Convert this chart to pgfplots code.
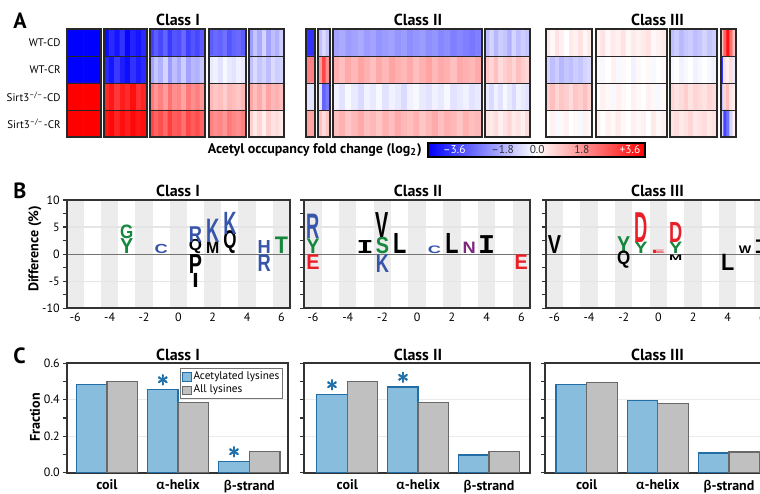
\documentclass[border=0pt]{standalone}
\usepackage{pgfplots}
\pgfplotsset{compat=1.18}
\usepackage{graphicx}
\usepackage{fontspec}
\setmainfont{PT Sans}
\newfontfamily\greekfont{Lato}
\newfontfamily\lfs{Liberation Sans}
\newfontfamily\lfm{Liberation Mono}
\newdimen\logounit \logounit=2.7075pt
\newcommand\fs[1]{\fontsize{#1}{#1}\selectfont}

\definecolor{lgreen}{RGB}{20,135,60}
\definecolor{lblue}{RGB}{55,85,170}
\definecolor{lred}{RGB}{235,30,40}
\definecolor{lpurple}{RGB}{125,40,125}
\definecolor{bandgray}{RGB}{236,236,236}
\definecolor{acetfill}{RGB}{137,189,222}
\definecolor{acetdraw}{RGB}{35,110,165}
\definecolor{allfill}{RGB}{192,192,192}
\definecolor{alldraw}{RGB}{105,105,105}
\definecolor{astblue}{RGB}{30,110,170}
\definecolor{hmframe}{RGB}{40,40,40}

\pgfplotsset{
  colormap={bwr}{rgb255=(0,0,255) rgb255=(255,255,255) rgb255=(255,0,0)},
  hm/.style={scale only axis, anchor=north west, height=54pt, enlargelimits=false,
    y dir=reverse, ymin=-0.5, ymax=3.5, xmin=-0.5, xtick=\empty,
    ytick={0.5,1.5,2.5}, yticklabels={}, ymajorgrids,
    major grid style={black!85, line width=0.5pt}, major tick length=0pt,
    axis on top, axis line style={hmframe, line width=1pt},
    colormap name=bwr, point meta min=-3.6, point meta max=3.6},
  logoax/.style={scale only axis, anchor=north west, height=54.15pt,
    xmin=-6.5, xmax=6.5, ymin=-10, ymax=10,
    xtick={-6,-4,-2,0,2,4,6}, ytick={-10,-5,0,5,10}, minor ytick={-7.5,-2.5,2.5,7.5},
    tick align=outside, ytick pos=left, xtick style={draw=none},
    major tick length=2pt, minor tick length=2pt, axis on top,
    axis line style={black!80, line width=0.9pt}, tick style={black!80, line width=0.6pt},
    tick label style={font=\fs{6}}, yticklabel style={xshift=2pt}, xticklabel style={yshift=3pt},
    /pgf/number format/assume math mode=true},
  logo/.style={scatter, only marks, mark=*, mark size=0pt, mark options={draw=none,fill=none},
    visualization depends on={value \thisrow{h}\as\Lh},
    visualization depends on={value \thisrow{w}\as\Lw},
    visualization depends on={value \thisrow{l}\as\Ll},
    visualization depends on={value \thisrow{c}\as\Lc},
    visualization depends on={value \thisrow{f}\as\Lf},
    scatter/@pre marker code/.code={\node[anchor=south, inner sep=0pt, outer sep=0pt, text=\Lc]
      {\resizebox{\Lw pt}{\Lh\logounit}{\csname lf\Lf\endcsname\bfseries\Ll}};},
    scatter/@post marker code/.code={}},
  barax/.style={scale only axis, anchor=north west, height=54.7pt,
    ybar=0pt, bar width=0.43, ymin=0, ymax=0.6,
    ytick={0,0.2,0.4,0.6}, minor ytick={0.1,0.3,0.5}, ytick pos=left, tick align=outside,
    major tick length=2pt, minor tick length=2pt,
    xtick={0,1,2}, xtick style={draw=none},
    xticklabels={coil,{{\greekfont α}-helix},{{\greekfont β}-strand}},
    xticklabel style={font=\bfseries\fs{7}, yshift=2pt},
    yticklabel style={font=\fs{6}, xshift=2pt, /pgf/number format/.cd, fixed, fixed zerofill, precision=1},
    /pgf/number format/assume math mode=true,
    ymajorgrids, major grid style={black!8, line width=0.6pt},
    axis line style={black!80, line width=0.9pt}, tick style={black!80, line width=0.6pt}},
  sqlegend/.style={legend image code/.code={\draw[##1, line width=0.5pt] (0pt,-2.2pt) rectangle (4.6pt,2.2pt);}},
  acet/.style={fill=acetfill, draw=acetdraw, line width=0.65pt, sqlegend},
  alll/.style={fill=allfill, draw=alldraw, line width=0.65pt, sqlegend},
}
\newcommand\bands{%
  \fill[bandgray] (axis cs:-6.5,-10) rectangle (axis cs:-5.5,10);
  \fill[bandgray] (axis cs:-4.5,-10) rectangle (axis cs:-3.5,10);
  \fill[bandgray] (axis cs:-2.5,-10) rectangle (axis cs:-1.5,10);
  \fill[bandgray] (axis cs:-0.5,-10) rectangle (axis cs:0.5,10);
  \fill[bandgray] (axis cs:1.5,-10) rectangle (axis cs:2.5,10);
  \fill[bandgray] (axis cs:3.5,-10) rectangle (axis cs:4.5,10);
  \fill[bandgray] (axis cs:5.5,-10) rectangle (axis cs:6.5,10);
  \addplot[black!10, line width=0.6pt] coordinates {(-6.5,5) (6.5,5)};
  \addplot[black!10, line width=0.6pt] coordinates {(-6.5,-5) (6.5,-5)};
  \addplot[black!55, line width=0.6pt] coordinates {(-6.5,0) (6.5,0)};}
\newcommand\astk{{\fs{11.5}\rlap{$\ast$}\rlap{\kern0.3pt$\ast$}\rlap{\raisebox{0.25pt}{\kern0.15pt$\ast$}}\rlap{\raisebox{-0.2pt}{\kern0.15pt$\ast$}}\kern0.15pt$\ast$}}

\begin{document}
\begin{tikzpicture}
\useasboundingbox (0pt,0pt) rectangle (380pt,-246.5pt);

% ---------------- Panel A ----------------
\node[anchor=base west, inner sep=0pt] at (6.5pt,-14pt) {\bfseries\fs{11}A};
\node[anchor=base, inner sep=0pt] at (89pt,-12.5pt) {\bfseries\fs{8}Class I};
\node[anchor=base, inner sep=0pt] at (209pt,-12.5pt) {\bfseries\fs{8}Class II};
\node[anchor=base, inner sep=0pt] at (328.75pt,-12.5pt) {\bfseries\fs{8}Class III};
\node[anchor=east, inner sep=0pt] at (30.5pt,-21.4pt) {\fs{5.5}WT-CD};
\node[anchor=east, inner sep=0pt] at (30.5pt,-34.9pt) {\fs{5.5}WT-CR};
\node[anchor=east, inner sep=0pt] at (30.5pt,-48.4pt) {\fs{5.5}Sirt3\textsuperscript{–/–}-CD};
\node[anchor=east, inner sep=0pt] at (30.5pt,-61.9pt) {\fs{5.5}Sirt3\textsuperscript{–/–}-CR};

\begin{axis}[hm, at={(33.35pt,-14.65pt)}, width=17pt, xmax=1.5]
\addplot[matrix plot*, mesh/cols=2, point meta=explicit] coordinates {
(0,0)[-3.6](1,0)[-3.6](0,1)[-3.6](1,1)[-3.6](0,2)[3.6](1,2)[3.6](0,3)[3.6](1,3)[3.6]};
\end{axis}
\begin{axis}[hm, at={(52pt,-14.65pt)}, width=21.35pt, xmax=7.5]
\addplot[matrix plot*, mesh/cols=8, point meta=explicit] coordinates {
(0,0)[-3.4](1,0)[-3.0](2,0)[-3.3](3,0)[-2.9](4,0)[-3.5](5,0)[-3.1](6,0)[-3.3](7,0)[-3.0]
(0,1)[-3.0](1,1)[-3.3](2,1)[-2.8](3,1)[-3.2](4,1)[-3.4](5,1)[-2.9](6,1)[-3.2](7,1)[-3.0]
(0,2)[3.0](1,2)[3.3](2,2)[2.8](3,2)[3.2](4,2)[3.0](5,2)[3.4](6,2)[2.9](7,2)[3.1]
(0,3)[3.3](1,3)[3.5](2,3)[3.1](3,3)[3.4](4,3)[3.2](5,3)[3.5](6,3)[3.3](7,3)[3.4]};
\end{axis}
\begin{axis}[hm, at={(74.85pt,-14.65pt)}, width=27.5pt, xmax=11.5]
\addplot[matrix plot*, mesh/cols=12, point meta=explicit] coordinates {
(0,0)[-2.7](1,0)[-2.3](2,0)[-2.6](3,0)[-2.2](4,0)[-2.8](5,0)[-2.4](6,0)[-2.5](7,0)[-2.1](8,0)[-2.7](9,0)[-2.4](10,0)[-2.6](11,0)[-2.3]
(0,1)[-1.3](1,1)[-0.8](2,1)[-1.1](3,1)[-0.6](4,1)[-1.4](5,1)[-0.9](6,1)[-1.2](7,1)[-0.7](8,1)[-1.3](9,1)[-1.0](10,1)[-1.1](11,1)[-0.8]
(0,2)[1.9](1,2)[1.5](2,2)[1.8](3,2)[1.4](4,2)[2.0](5,2)[1.6](6,2)[1.7](7,2)[1.3](8,2)[1.9](9,2)[1.6](10,2)[1.8](11,2)[1.5]
(0,3)[2.6](1,3)[2.2](2,3)[2.5](3,3)[2.1](4,3)[2.7](5,3)[2.3](6,3)[2.4](7,3)[2.0](8,3)[2.6](9,3)[2.3](10,3)[2.5](11,3)[2.2]};
\end{axis}
\begin{axis}[hm, at={(104.65pt,-14.65pt)}, width=18.2pt, xmax=7.5]
\addplot[matrix plot*, mesh/cols=8, point meta=explicit] coordinates {
(0,0)[-2.3](1,0)[-2.1](2,0)[-2.2](3,0)[-2.0](4,0)[-2.4](5,0)[-2.2](6,0)[-2.1](7,0)[-2.3]
(0,1)[-0.3](1,1)[-0.2](2,1)[-0.4](3,1)[-0.1](4,1)[-0.3](5,1)[-0.4](6,1)[-0.2](7,1)[-0.3]
(0,2)[1.0](1,2)[0.8](2,2)[0.9](3,2)[0.7](4,2)[1.0](5,2)[0.9](6,2)[0.8](7,2)[1.0]
(0,3)[1.8](1,3)[1.6](2,3)[1.7](3,3)[1.5](4,3)[1.9](5,3)[1.7](6,3)[1.6](7,3)[1.8]};
\end{axis}
\begin{axis}[hm, at={(124.35pt,-14.65pt)}, width=17.8pt, xmax=7.5]
\addplot[matrix plot*, mesh/cols=8, point meta=explicit] coordinates {
(0,0)[-1.4](1,0)[-0.8](2,0)[-1.2](3,0)[-0.6](4,0)[-1.3](5,0)[-0.9](6,0)[-1.1](7,0)[-0.7]
(0,1)[-0.9](1,1)[-0.5](2,1)[-0.8](3,1)[-0.6](4,1)[-0.9](5,1)[-0.5](6,1)[-0.7](7,1)[-0.6]
(0,2)[1.3](1,2)[0.9](2,2)[1.2](3,2)[0.8](4,2)[1.3](5,2)[1.0](6,2)[1.1](7,2)[0.9]
(0,3)[0.7](1,3)[0.3](2,3)[0.6](3,3)[0.2](4,3)[0.7](5,3)[0.4](6,3)[0.5](7,3)[0.3]};
\end{axis}
\begin{axis}[hm, at={(153pt,-14.65pt)}, width=4.35pt, xmax=1.5]
\addplot[matrix plot*, mesh/cols=2, point meta=explicit] coordinates {
(0,0)[-2.9](1,0)[-2.9](0,1)[1.8](1,1)[1.8](0,2)[-0.4](1,2)[-0.4](0,3)[1.3](1,3)[1.3]};
\end{axis}
\begin{axis}[hm, at={(159.15pt,-14.65pt)}, width=5.85pt, xmax=2.5]
\addplot[matrix plot*, mesh/cols=3, point meta=explicit] coordinates {
(0,0)[-0.9](1,0)[-0.5](2,0)[-0.8]
(0,1)[1.4](1,1)[2.6](2,1)[1.6]
(0,2)[-0.4](1,2)[-2.2](2,2)[-1.9]
(0,3)[0.9](1,3)[0.5](2,3)[0.8]};
\end{axis}
\begin{axis}[hm, at={(166.65pt,-14.65pt)}, width=74.2pt, xmax=23.5]
\addplot[matrix plot*, mesh/cols=24, point meta=explicit] coordinates {
(0,0)[-1.3](1,0)[-1.2](2,0)[-1.4](3,0)[-1.3](4,0)[-1.2](5,0)[-1.4](6,0)[-1.3](7,0)[-1.5](8,0)[-1.4](9,0)[-1.3](10,0)[-1.5](11,0)[-1.4](12,0)[-1.6](13,0)[-1.5](14,0)[-1.4](15,0)[-1.6](16,0)[-1.5](17,0)[-1.7](18,0)[-1.6](19,0)[-1.8](20,0)[-1.7](21,0)[-1.8](22,0)[-1.9](23,0)[-1.8]
(0,1)[1.1](1,1)[0.9](2,1)[1.2](3,1)[1.0](4,1)[1.3](5,1)[1.1](6,1)[0.9](7,1)[1.2](8,1)[1.0](9,1)[1.3](10,1)[1.1](11,1)[1.0](12,1)[1.2](13,1)[0.9](14,1)[1.1](15,1)[1.3](16,1)[1.0](17,1)[1.2](18,1)[1.1](19,1)[0.9](20,1)[1.2](21,1)[1.1](22,1)[1.0](23,1)[1.2]
(0,2)[-0.2](1,2)[-0.4](2,2)[-0.1](3,2)[-0.3](4,2)[-0.5](5,2)[-0.2](6,2)[-0.3](7,2)[-0.1](8,2)[-0.4](9,2)[-0.2](10,2)[-0.3](11,2)[-0.5](12,2)[-0.2](13,2)[-0.1](14,2)[-0.3](15,2)[-0.4](16,2)[-0.2](17,2)[-0.3](18,2)[-0.1](19,2)[-0.4](20,2)[-0.3](21,2)[-0.2](22,2)[-0.4](23,2)[-0.3]
(0,3)[0.9](1,3)[1.1](2,3)[0.8](3,3)[1.0](4,3)[1.2](5,3)[0.9](6,3)[1.0](7,3)[0.8](8,3)[1.1](9,3)[0.9](10,3)[1.2](11,3)[1.0](12,3)[0.9](13,3)[1.1](14,3)[0.8](15,3)[1.0](16,3)[1.2](17,3)[0.9](18,3)[1.1](19,3)[1.0](20,3)[0.8](21,3)[1.1](22,3)[0.9](23,3)[1.0]};
\end{axis}
\begin{axis}[hm, at={(242.65pt,-14.65pt)}, width=22.35pt, xmax=9.5]
\addplot[matrix plot*, mesh/cols=10, point meta=explicit] coordinates {
(0,0)[-0.9](1,0)[-0.6](2,0)[-1.0](3,0)[-0.7](4,0)[-0.8](5,0)[-1.1](6,0)[-0.6](7,0)[-0.9](8,0)[-0.7](9,0)[-0.8]
(0,1)[0.8](1,1)[0.6](2,1)[0.9](3,1)[0.5](4,1)[0.7](5,1)[0.8](6,1)[0.6](7,1)[0.9](8,1)[0.7](9,1)[0.6]
(0,2)[-0.3](1,2)[-0.5](2,2)[-0.2](3,2)[-0.4](4,2)[-0.1](5,2)[-0.3](6,2)[-0.5](7,2)[-0.2](8,2)[-0.3](9,2)[-0.4]
(0,3)[0.4](1,3)[0.3](2,3)[0.5](3,3)[0.2](4,3)[0.4](5,3)[0.6](6,3)[0.3](7,3)[0.4](8,3)[0.2](9,3)[0.5]};
\end{axis}
\begin{axis}[hm, at={(273pt,-14.65pt)}, width=23.15pt, xmax=9.5]
\addplot[matrix plot*, mesh/cols=10, point meta=explicit] coordinates {
(0,0)[0.3](1,0)[0.1](2,0)[0.4](3,0)[0.2](4,0)[0.0](5,0)[0.3](6,0)[0.2](7,0)[0.4](8,0)[0.1](9,0)[0.3]
(0,1)[-0.6](1,1)[-0.9](2,1)[-0.7](3,1)[-1.0](4,1)[-0.8](5,1)[-0.9](6,1)[-0.7](7,1)[-0.8](8,1)[-0.6](9,1)[-0.5]
(0,2)[0.7](1,2)[0.9](2,2)[0.6](3,2)[0.8](4,2)[0.7](5,2)[0.5](6,2)[0.8](7,2)[0.7](8,2)[0.9](9,2)[0.6]
(0,3)[0.0](1,3)[0.2](2,3)[-0.1](3,3)[0.1](4,3)[0.2](5,3)[0.0](6,3)[0.1](7,3)[-0.1](8,3)[0.2](9,3)[0.1]};
\end{axis}
\begin{axis}[hm, at={(297.85pt,-14.65pt)}, width=35.5pt, xmax=13.5]
\addplot[matrix plot*, mesh/cols=14, point meta=explicit] coordinates {
(0,0)[0.2](1,0)[0.4](2,0)[0.1](3,0)[0.3](4,0)[0.2](5,0)[0.4](6,0)[0.1](7,0)[0.3](8,0)[0.2](9,0)[0.3](10,0)[0.4](11,0)[0.1](12,0)[0.2](13,0)[0.3]
(0,1)[0.1](1,1)[-0.1](2,1)[0.0](3,1)[0.2](4,1)[-0.1](5,1)[0.1](6,1)[0.0](7,1)[-0.2](8,1)[0.1](9,1)[0.0](10,1)[0.1](11,1)[-0.1](12,1)[0.0](13,1)[0.1]
(0,2)[0.0](1,2)[0.2](2,2)[0.1](3,2)[-0.1](4,2)[0.2](5,2)[0.1](6,2)[0.0](7,2)[0.2](8,2)[0.1](9,2)[0.0](10,2)[0.2](11,2)[0.1](12,2)[-0.1](13,2)[0.1]
(0,3)[0.2](1,3)[0.0](2,3)[0.2](3,3)[0.1](4,3)[0.3](5,3)[0.1](6,3)[0.0](7,3)[0.2](8,3)[0.1](9,3)[0.2](10,3)[0.0](11,3)[0.3](12,3)[0.1](13,3)[0.2]};
\end{axis}
\begin{axis}[hm, at={(335pt,-14.65pt)}, width=23.35pt, xmax=9.5]
\addplot[matrix plot*, mesh/cols=10, point meta=explicit] coordinates {
(0,0)[-0.9](1,0)[-0.7](2,0)[-1.0](3,0)[-0.8](4,0)[-0.7](5,0)[-0.9](6,0)[-0.8](7,0)[-0.6](8,0)[-0.8](9,0)[-0.7]
(0,1)[-0.1](1,1)[0.0](2,1)[-0.2](3,1)[-0.1](4,1)[0.0](5,1)[-0.2](6,1)[-0.1](7,1)[0.0](8,1)[-0.1](9,1)[-0.2]
(0,2)[0.6](1,2)[0.4](2,2)[0.5](3,2)[0.7](4,2)[0.4](5,2)[0.6](6,2)[0.5](7,2)[0.4](8,2)[0.6](9,2)[0.5]
(0,3)[0.4](1,3)[0.5](2,3)[0.3](3,3)[0.4](4,3)[0.6](5,3)[0.3](6,3)[0.4](7,3)[0.5](8,3)[0.3](9,3)[0.4]};
\end{axis}
\begin{axis}[hm, at={(360.35pt,-14.65pt)}, width=7.65pt, xmax=4.5]
\addplot[matrix plot*, mesh/cols=5, point meta=explicit] coordinates {
(0,0)[0.8](1,0)[2.2](2,0)[3.4](3,0)[2.0](4,0)[0.9]
(0,1)[-2.8](1,1)[0.4](2,1)[0.2](3,1)[0.5](4,1)[-0.3]
(0,2)[-0.8](1,2)[0.6](2,2)[0.9](3,2)[0.4](4,2)[0.2]
(0,3)[-0.5](1,3)[-2.6](2,3)[-2.0](3,3)[-0.6](4,3)[0.2]};
\end{axis}

% colour bar
\node[anchor=east, inner sep=0pt] at (211pt,-75pt) {\bfseries\fs{7}Acetyl occupancy fold change (log\textsubscript{2})};
\begin{axis}[scale only axis, anchor=north west, at={(214pt,-71.5pt)}, width=108.5pt, height=7pt,
  xmin=-3.6, xmax=3.6, ymin=0, ymax=1, xtick=\empty, ytick=\empty, axis on top,
  axis line style={black, line width=0.6pt}, colormap name=bwr, point meta min=-3.6, point meta max=3.6]
\addplot[surf, shader=interp, mesh/cols=3, point meta=explicit] coordinates {
(-3.6,0)[-3.6] (0,0)[0] (3.6,0)[3.6] (-3.6,1)[-3.6] (0,1)[0] (3.6,1)[3.6]};
\end{axis}
\node[text=white, inner sep=0pt] at (227.2pt,-75pt) {\fs{5.7}–3.6};
\node[text=black!80, inner sep=0pt] at (251.3pt,-75pt) {\fs{5.7}–1.8};
\node[text=black!80, inner sep=0pt] at (268.6pt,-75pt) {\fs{5.7}0.0};
\node[text=black!80, inner sep=0pt] at (290.9pt,-75pt) {\fs{5.7}1.8};
\node[text=white, inner sep=0pt] at (315pt,-75pt) {\fs{5.7}+3.6};

% ---------------- Panel B ----------------
\node[anchor=base west, inner sep=0pt] at (6.5pt,-99pt) {\bfseries\fs{11}B};
\node[anchor=base, inner sep=0pt] at (89pt,-98.35pt) {\bfseries\fs{8}Class I};
\node[anchor=base, inner sep=0pt] at (209pt,-98.35pt) {\bfseries\fs{8}Class II};
\node[anchor=base, inner sep=0pt] at (328.75pt,-98.35pt) {\bfseries\fs{8}Class III};
\node[rotate=90, inner sep=0pt] at (17.4pt,-124.5pt) {\bfseries\fs{7}Difference (\%)};

\begin{axis}[logoax, at={(33.35pt,-100pt)}, width=111.65pt]
\bands
\addplot[logo] table {
x y h w l c f
-3 0.05 2.75 6.6 Y lgreen s
-3 2.9 2.5 6.6 G lgreen s
-1 0.1 1.7 6.6 C lblue s
1 0.05 2.05 6.6 Q black s
1 2.2 2.9 6.6 R lblue s
1 -3.6 3.5 6.6 P black s
1 -6.2 2.6 3.2 I black s
2 0.05 2.1 6.6 M black s
2 2.2 4.3 6.6 K lblue s
3 0.1 3.3 6.6 Q black s
3 3.6 4.1 6.6 K lblue s
5 0.05 2.4 6.6 H lblue s
5 -3.2 3.1 6.6 R lblue s
6 0.05 3.05 6.6 T lgreen s
};
\end{axis}
\begin{axis}[logoax, at={(152.15pt,-100pt)}, width=112.85pt, yticklabels={}]
\bands
\addplot[logo] table {
x y h w l c f
-6 0.1 2.7 6.6 Y lgreen s
-6 2.8 4.5 6.6 R lblue s
-6 -2.8 2.7 6.6 E lred s
-3 0.1 2.4 8.5 I black m
-2 0.1 3.0 6.6 S lgreen s
-2 3.1 4.6 6.6 V black s
-2 -3.4 3.3 6.6 K lblue s
-1 0.1 3.7 6.6 L black s
1 0.1 1.4 6.6 C lblue s
2 0.1 3.7 6.6 L black s
3 0.1 2.1 6.6 N lpurple s
4 0.1 3.3 8.5 I black m
6 -2.8 2.7 6.6 E lred s
};
\end{axis}
\begin{axis}[logoax, at={(272.85pt,-100pt)}, width=112.65pt, yticklabels={}]
\bands
\addplot[logo] table {
x y h w l c f
-6 0.1 3.3 6.6 V black s
-2 0.1 3.1 6.6 Y lgreen s
-2 -2.6 2.5 6.6 Q black s
-1 0.1 2.1 6.6 Y lgreen s
-1 2.2 5.5 6.6 D lred s
0 0.1 0.6 6.6 E lred s
1 0.1 2.1 6.6 Y lgreen s
1 2.2 3.7 6.6 D lred s
1 -1.1 1.0 6.6 M black s
4 -3.1 3.0 6.6 L black s
5 0.1 1.4 6.2 W black s
6 0.1 2.5 8.5 I black m
};
\end{axis}

% ---------------- Panel C ----------------
\node[anchor=base west, inner sep=0pt] at (6.5pt,-181.5pt) {\bfseries\fs{11}C};
\node[anchor=base, inner sep=0pt] at (89pt,-180pt) {\bfseries\fs{8}Class I};
\node[anchor=base, inner sep=0pt] at (209pt,-180pt) {\bfseries\fs{8}Class II};
\node[anchor=base, inner sep=0pt] at (328.75pt,-180pt) {\bfseries\fs{8}Class III};
\node[rotate=90, inner sep=0pt] at (17.5pt,-208.75pt) {\bfseries\fs{7}Fraction};

\begin{axis}[barax, at={(33.35pt,-181.65pt)}, width=110.8pt, xmin=-0.565, xmax=2.548,
  legend style={at={(1,1)}, anchor=north east, xshift=-2.8pt, yshift=-2.5pt,
    draw=black!55, line width=0.5pt, font=\fs{5.6}, inner xsep=0.8pt, inner ysep=0.8pt,
    row sep=0pt, nodes={inner sep=0.6pt}, cells={anchor=west}}]
\addplot[acet] coordinates {(0,0.485) (1,0.455) (2,0.06)};
\addlegendentry{Acetylated lysines}
\addplot[alll] coordinates {(0,0.50) (1,0.385) (2,0.115)};
\addlegendentry{All lysines}
\end{axis}
\begin{axis}[barax, at={(152.15pt,-181.65pt)}, width=112.85pt, xmin=-0.607, xmax=2.579, yticklabels={}]
\addplot[acet] coordinates {(0,0.43) (1,0.47) (2,0.097)};
\addplot[alll] coordinates {(0,0.50) (1,0.385) (2,0.115)};
\end{axis}
\begin{axis}[barax, at={(272.5pt,-181.65pt)}, width=111.9pt, xmin=-0.586, xmax=2.56, yticklabels={}]
\addplot[acet] coordinates {(0,0.485) (1,0.395) (2,0.108)};
\addplot[alll] coordinates {(0,0.495) (1,0.38) (2,0.113)};
\end{axis}
% significance asterisks
\node[anchor=south, inner sep=0pt, text=astblue] at (81.4pt,-193.6pt) {\astk};
\node[anchor=south, inner sep=0pt, text=astblue] at (117pt,-229.6pt) {\astk};
\node[anchor=south, inner sep=0pt, text=astblue] at (166pt,-195.9pt) {\astk};
\node[anchor=south, inner sep=0pt, text=astblue] at (201.5pt,-192.2pt) {\astk};
\end{tikzpicture}
\end{document}
